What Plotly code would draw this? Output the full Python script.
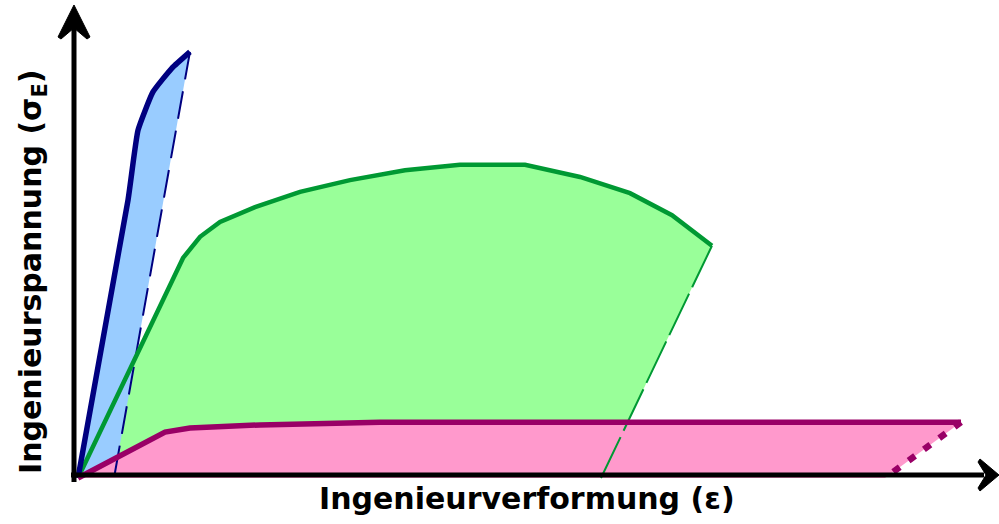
import plotly.graph_objects as go

# Schematic engineering stress-strain curves (arbitrary units)
# Brittle material (blue)
brittle_strain = [0.0, 5.56, 6.67, 8.33, 10.44, 12.44]
brittle_stress = [0.0, 61.8, 77.3, 85.8, 91.1, 94.7]
brittle_residual = 4.0

# Ductile, high-strength material (green)
ductile_strain = [0.0, 11.67, 13.56, 15.78, 19.67, 24.67, 30.22, 36.33,
                  42.44, 49.67, 55.78, 61.33, 66.0, 70.44]
ductile_stress = [0.0, 48.9, 53.6, 56.9, 60.2, 63.6, 66.2, 68.4,
                  69.6, 69.6, 66.9, 63.3, 58.4, 51.6]
ductile_residual = 58.11

# Soft, very ductile material (magenta)
soft_strain = [0.0, 9.67, 12.44, 20.22, 33.56, 98.11]
soft_stress = [0.0, 10.2, 11.1, 11.8, 12.4, 12.4]
soft_residual = 89.67

x_title = "Ingenieurverformung (ε)"
y_title = "Ingenieurspannung (σ<sub>E</sub>)"

W, H = 999, 524
# axis scale: origin at pixel (78, 478), 9 px per strain unit, 4.5 px per stress unit
X0, Y0, SX, SY = 78, 478, 9.0, 4.5
x_range = [-X0 / SX, (W - X0) / SX]
y_range = [(Y0 - H) / SY, Y0 / SY]


def paper(px, py):
    return px / W, 1 - py / H


def polygon(strain, stress, residual):
    xs = list(strain) + [residual, 0.0]
    ys = list(stress) + [0.0, 0.0]
    return xs, ys


materials = [
    # (strain, stress, residual, fill, line, width, unload dash, unload width, curve shape)
    (ductile_strain, ductile_stress, ductile_residual, "#99FF99", "#009933", 4.5, "46px,7px", 2, "linear"),
    (brittle_strain, brittle_stress, brittle_residual, "#99CCFF", "#000080", 5.5, "28px,12px", 2, "spline"),
    (soft_strain, soft_stress, soft_residual, "#FF99CC", "#990066", 5.5, "8px,11px", 6.5, "linear"),
]

fig = go.Figure()

# filled areas
for strain, stress, res, fill, line, w, dash, uw, shp in materials:
    xs, ys = polygon(strain, stress, res)
    fig.add_trace(go.Scatter(x=xs, y=ys, mode="lines", fill="toself",
                             fillcolor=fill, line=dict(width=0),
                             hoverinfo="skip", showlegend=False))

# elastic unloading lines
for strain, stress, res, fill, line, w, dash, uw, shp in materials:
    fig.add_trace(go.Scatter(x=[strain[-1], res], y=[stress[-1], 0.0],
                             mode="lines", line=dict(color=line, width=uw, dash=dash),
                             hoverinfo="skip", showlegend=False))

# stress-strain curves
for strain, stress, res, fill, line, w, dash, uw, shp in materials:
    fig.add_trace(go.Scatter(x=strain, y=stress, mode="lines",
                             line=dict(color=line, width=w, shape=shp, smoothing=0.4),
                             hoverinfo="skip", showlegend=False))

# axis arrows drawn in paper coordinates
shapes = []
ax_x, ax_y = 74, 475
x0p, y0p = paper(ax_x, 482)
x1p, y1p = paper(ax_x, 24)
shapes.append(dict(type="line", xref="paper", yref="paper", x0=x0p, y0=y0p,
                   x1=x1p, y1=y1p, line=dict(color="black", width=5)))
x0p, y0p = paper(71, ax_y)
x1p, y1p = paper(984, ax_y)
shapes.append(dict(type="line", xref="paper", yref="paper", x0=x0p, y0=y0p,
                   x1=x1p, y1=y1p, line=dict(color="black", width=5)))


def head(points):
    pts = [paper(*p) for p in points]
    return "M " + " L ".join(f"{a:.5f},{b:.5f}" for a, b in pts) + " Z"


shapes.append(dict(type="path", xref="paper", yref="paper",
                   path=head([(74, 5), (90, 37), (87, 39), (74, 28), (61, 39), (58, 37)]),
                   fillcolor="black", line=dict(color="black", width=1)))
shapes.append(dict(type="path", xref="paper", yref="paper",
                   path=head([(999, ax_y), (980, 491), (978, 488), (986, ax_y), (978, 462), (980, 459)]),
                   fillcolor="black", line=dict(color="black", width=1)))

title_font = dict(family="DejaVu Sans", size=30, color="black", weight="bold")
ax_px, ay_px = paper(527, 498)
annotations = [
    dict(text=x_title, xref="paper", yref="paper", x=ax_px, y=ay_px,
         showarrow=False, font=title_font, xanchor="center", yanchor="middle"),
]
ax_px, ay_px = paper(32, 272)
annotations.append(dict(text=y_title, xref="paper", yref="paper", x=ax_px, y=ay_px,
                        showarrow=False, font=title_font, textangle=-90,
                        xanchor="center", yanchor="middle"))

fig.update_layout(
    width=W, height=H,
    margin=dict(l=0, r=0, t=0, b=0),
    paper_bgcolor="white", plot_bgcolor="white",
    xaxis=dict(range=x_range, visible=False, fixedrange=True),
    yaxis=dict(range=y_range, visible=False, fixedrange=True),
    shapes=shapes, annotations=annotations,
)

fig.write_html("out.html")
